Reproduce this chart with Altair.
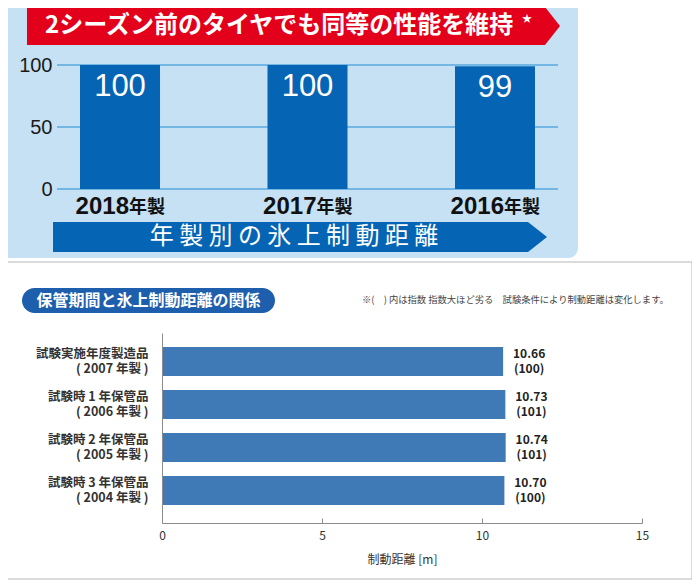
import altair as alt
import pandas as pd

W, H = 684, 572
OFF = 8


def px(v):
    return v - OFF


JP = "Noto Sans CJK JP"
LAT = "Liberation Sans"

PANEL = "#c6e1f4"
RED = "#e3001b"
BLUE = "#0565b4"
GRID = "#5aa8df"
PILL = "#1d5fad"
BAR2 = "#3f7ab6"
AXC = "#8c8c8c"

# ---------------- data ----------------
top_years = ["2018", "2017", "2016"]
top_index = [100, 100, 99]
top_ticks = [0, 50, 100]

bottom_items = [
    "試験実施年度製造品\n( 2007 年製 )",
    "試験時 1 年保管品\n( 2006 年製 )",
    "試験時 2 年保管品\n( 2005 年製 )",
    "試験時 3 年保管品\n( 2004 年製 )",
]
bottom_dist = [10.66, 10.73, 10.74, 10.70]
bottom_index = [100, 101, 101, 100]
bottom_ticks = [0, 5, 10, 15]

banner_red_text = "2シーズン前のタイヤでも同等の性能を維持"
banner_blue_text = "年 製 別 の 氷 上 制 動 距 離"
pill_text = "保管期間と氷上制動距離の関係"
note_text = "※(　) 内は指数 指数大ほど劣る　試験条件により制動距離は変化します。"
x_title = "制動距離 [m]"

# ---------------- helpers ----------------
one = pd.DataFrame({"k": [0]})


def rect(x1, x2, y1, y2, **kw):
    return alt.Chart(one).mark_rect(**kw).encode(
        x=alt.value(x1), x2=alt.value(x2), y=alt.value(y1), y2=alt.value(y2)
    )


def label(txt, x, y, **kw):
    return alt.Chart(one).mark_text(text=txt, **kw).encode(
        x=alt.value(x), y=alt.value(y)
    )


def arrow(left, body, tip, top, bottom, color):
    cx = (left + tip) / 2.0
    cy = (top + bottom) / 2.0
    h = (tip - left) / 2.0
    xb = (body - cx) / h
    yh = (bottom - top) / 2.0 / h
    path = f"M-1,{-yh:.4f}L{xb:.4f},{-yh:.4f}L1,0L{xb:.4f},{yh:.4f}L-1,{yh:.4f}Z"
    return alt.Chart(one).mark_point(
        shape=path, filled=True, size=(2 * h) ** 2, color=color, opacity=1, strokeWidth=0
    ).encode(x=alt.value(px(cx)), y=alt.value(px(cy)))


# ---------------- backgrounds ----------------
bg_top = rect(-8, px(578), -8, px(258), color=PANEL, cornerRadius=10)
bg_bot = rect(-8, px(692), px(262), H - 1, fill="white", stroke="#cfcfcf", strokeWidth=1.5)

red_banner = arrow(27, 545, 560, 7, 45, RED)
red_txt = label(banner_red_text, px(45), px(26), font=JP, fontSize=24, fontWeight="bold",
                color="white", align="left", baseline="middle")
star = label("★", px(527), px(19), font=JP, fontSize=10, color="white",
             align="center", baseline="middle")

blue_banner = arrow(53, 528, 547, 222, 252, BLUE)
blue_txt = label(banner_blue_text, px(294), px(237), font=JP, fontSize=24,
                 color="white", align="center", baseline="middle")

# ---------------- top bar chart ----------------
top_y = alt.Scale(domain=[0, 100], range=[px(189), px(65)], nice=False)
top_x = alt.Scale(type="band", domain=top_years, range=[px(80), px(535)],
                  paddingInner=0.5733, paddingOuter=0)

grid = alt.Chart(pd.DataFrame({"v": top_ticks})).mark_rule(color=GRID, strokeWidth=1.5).encode(
    y=alt.Y("v:Q", scale=top_y, axis=alt.Axis(
        orient="left", offset=-px(52), values=top_ticks, domain=False, ticks=False,
        tickSize=0, labelPadding=0, grid=False, title=None, labelFont=LAT,
        labelFontSize=20, labelColor="#1a1a1a", zindex=2)),
    x=alt.value(px(57)), x2=alt.value(px(558)),
)

top_df = pd.DataFrame({"year": top_years, "idx": top_index})
bars_top = alt.Chart(top_df).mark_bar(color=BLUE).encode(
    x=alt.X("year:N", scale=top_x, sort=top_years, axis=None),
    y=alt.Y("idx:Q", scale=top_y, axis=None),
)
bars_top_txt = alt.Chart(top_df).mark_text(
    font=LAT, fontSize=31, color="white", baseline="middle", dy=22
).encode(
    x=alt.X("year:N", scale=top_x, sort=top_years, axis=None),
    y=alt.Y("idx:Q", scale=top_y, axis=None),
    text="idx:Q",
)
year_num = alt.Chart(top_df).mark_text(
    font=LAT, fontSize=24, fontWeight="bold", color="#111111", align="right",
    baseline="alphabetic", dx=9
).encode(
    x=alt.X("year:N", scale=top_x, sort=top_years, axis=None),
    y=alt.value(px(214)),
    text="year:N",
)
year_suf = alt.Chart(top_df).mark_text(
    text="年製", font=JP, fontSize=18, fontWeight="bold", color="#111111", align="left",
    baseline="alphabetic", dx=9
).encode(
    x=alt.X("year:N", scale=top_x, sort=top_years, axis=None),
    y=alt.value(px(213)),
)

# ---------------- bottom header ----------------
pill = rect(px(22), px(275), px(288), px(313), color=PILL, cornerRadius=12.5)
pill_txt = label(pill_text, px(148.5), px(300.5), font=JP, fontSize=16, fontWeight="bold",
                 color="white", align="center", baseline="middle")
note = label(note_text, px(362), px(300), font=JP, fontSize=9.3, color="#444444",
             align="left", baseline="middle")

# ---------------- bottom bar chart ----------------
bot_y = alt.Scale(type="band", domain=bottom_items, range=[px(333), px(523)],
                  paddingInner=0.3256, paddingOuter=0.372, align=0.44)
bot_x = alt.Scale(domain=[0, 15], range=[px(162), px(642)], nice=False, zero=False)

bot_df = pd.DataFrame({"item": bottom_items, "dist": bottom_dist, "idx": bottom_index})
bot_df["lab"] = [f"{d:.2f}\n({i})" for d, i in zip(bottom_dist, bottom_index)]

bars_bot = alt.Chart(bot_df).mark_bar(color=BAR2).encode(
    x=alt.X("dist:Q", scale=bot_x, axis=alt.Axis(
        orient="bottom", offset=px(523) - H, values=bottom_ticks, domainColor=AXC,
        domainWidth=1, ticks=False, tickSize=0, grid=False, labelFont=JP,
        labelFontSize=12, labelColor="#333333", labelPadding=7, labelFlush=False,
        title=x_title, titleFont=JP, titleFontSize=12, titleFontWeight="normal",
        titleColor="#333333", titlePadding=13, zindex=2)),
    y=alt.Y("item:N", scale=bot_y, sort=bottom_items, axis=alt.Axis(
        orient="left", offset=-px(162), domainColor=AXC, domainWidth=1, ticks=False,
        tickSize=0, grid=False, title=None, labelFont=JP, labelFontSize=12.5,
        labelFontWeight="bold", labelColor="#333333", labelPadding=14,
        labelLineHeight=15, labelOffset=-7.5, labelLimit=0,
        labelExpr="split(datum.label, '\\n')", zindex=2)),
)

bars_bot_txt = alt.Chart(bot_df).mark_text(
    font=JP, fontSize=12, fontWeight="bold", color="#222222", align="center",
    baseline="middle", dx=26, dy=-7.5, lineBreak="\n", lineHeight=15
).encode(
    x=alt.X("dist:Q", scale=bot_x, axis=alt.Axis(
        orient="top", offset=-px(523), values=bottom_ticks, domain=False, ticks=True,
        tickSize=5, tickColor=AXC, tickWidth=1, labels=False, grid=False, title=None,
        zindex=2)),
    y=alt.Y("item:N", scale=bot_y, sort=bottom_items, axis=None),
    text="lab:N",
)

chart = alt.layer(
    bg_top, bg_bot,
    red_banner, red_txt, star,
    grid, bars_top, bars_top_txt, year_num, year_suf,
    blue_banner, blue_txt,
    pill, pill_txt, note,
    bars_bot, bars_bot_txt,
).resolve_scale(
    x="independent", y="independent"
).properties(
    width=W, height=H,
    autosize=alt.AutoSizeParams(type="none"),
    padding=0,
    background="white",
).configure_view(stroke=None)

chart.save("out.html", embed_options={"renderer": "svg", "actions": False})
